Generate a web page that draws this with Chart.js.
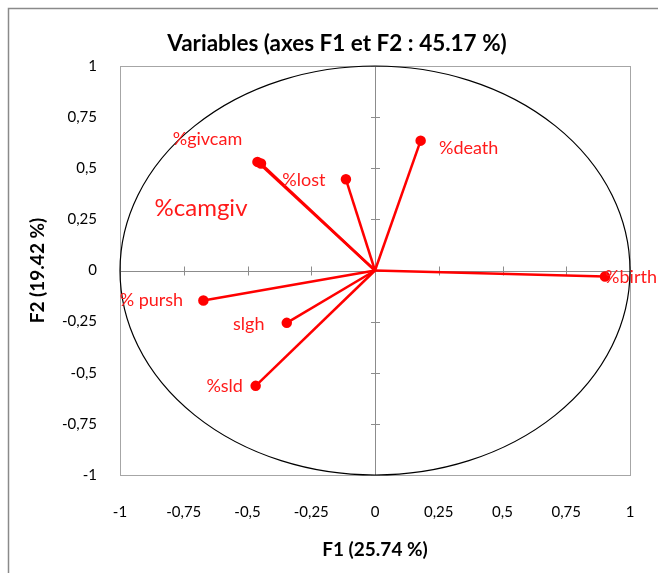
<!DOCTYPE html>
<html>
<head>
<meta charset="utf-8">
<script src="https://cdn.jsdelivr.net/npm/chart.js@4.4.1/dist/chart.umd.min.js"></script>
<style>
  html, body { margin: 0; padding: 0; background: #fff; }
  #wrap { width: 658px; height: 573px; }
</style>
</head>
<body>
<div id="wrap"><canvas id="circleChart" width="658" height="573"></canvas></div>
<script>
// Correlation circle, F1 x F2
const varNames = ['%birth', '%death', '%lost', '%givcam', '%camgiv', '% pursh', 'slgh', '%sld'];
const f1Values = [0.902, 0.179, -0.114, -0.461, -0.447, -0.673, -0.346, -0.468];
const f2Values = [-0.029, 0.635, 0.446, 0.531, 0.523, -0.147, -0.256, -0.564];
const axisTicks = [-1, -0.75, -0.5, -0.25, 0, 0.25, 0.5, 0.75, 1];

const chartTitle = 'Variables (axes F1 et F2 : 45.17 %)';
const xTitle = 'F1 (25.74 %)';
const yTitle = 'F2 (19.42 %)';

const fontFam = 'Lato, "DejaVu Sans Condensed", sans-serif';

// where each name sits around its arrow tip (px) and how big it is
const labelStyle = [
    {dx: 26, dy: 1, size: 18},
    {dx: 48, dy: 8, size: 18},
    {dx: -42, dy: 1, size: 18},
    {dx: -50, dy: -23, size: 18},
    {dx: -60, dy: 45, size: 24},
    {dx: -52, dy: 0, size: 18},
    {dx: -38, dy: 1, size: 18},
    {dx: -31, dy: 0, size: 18}
];

function fmt(v){
    return String(v).replace('.', ',');
}

// one dataset per variable: a segment from the origin to its coordinates
const datasets = [];
for(let i = 0; i < varNames.length; i++){
    datasets.push({
        label: varNames[i],
        data: [{x: 0, y: 0}, {x: f1Values[i], y: f2Values[i]}],
        showLine: true,
        borderColor: '#ff0000',
        backgroundColor: '#ff0000',
        borderWidth: 2.5,
        pointRadius: ctx => ctx.dataIndex ? 4 : 0,
        pointHoverRadius: 0
    });
}

const circlePlugin = {
    id: 'circlePlugin',
    beforeDraw(chart){
        const c = chart.ctx;
        c.save();
        c.fillStyle = '#fff';
        c.fillRect(0, 0, chart.width, chart.height);
        // outer frame
        c.strokeStyle = '#8a8a8a';
        c.lineWidth = 1.5;
        c.strokeRect(8.5, 8.5, chart.width + 50, chart.height + 50);
        // title
        c.fillStyle = '#000';
        c.font = 'bold 22.5px ' + fontFam;
        c.textAlign = 'center';
        c.textBaseline = 'middle';
        c.fillText(chartTitle, 337, 44);
        c.restore();
    },
    beforeDatasetsDraw(chart){
        const c = chart.ctx;
        const xs = chart.scales.x, ys = chart.scales.y;
        const a = chart.chartArea;
        const x0 = xs.getPixelForValue(0), y0 = ys.getPixelForValue(0);
        c.save();
        // plot box
        c.strokeStyle = '#a6a6a6';
        c.lineWidth = 1;
        c.strokeRect(Math.round(a.left) + 0.5, Math.round(a.top) + 0.5, Math.round(a.right - a.left), Math.round(a.bottom - a.top));
        // axes through the origin with cross ticks
        c.strokeStyle = '#8c8c8c';
        c.beginPath();
        c.moveTo(a.left, Math.round(y0) + 0.5);
        c.lineTo(a.right, Math.round(y0) + 0.5);
        c.moveTo(Math.round(x0) + 0.5, a.top);
        c.lineTo(Math.round(x0) + 0.5, a.bottom);
        axisTicks.forEach(t => {
            const px = Math.round(xs.getPixelForValue(t)) + 0.5;
            const py = Math.round(ys.getPixelForValue(t)) + 0.5;
            c.moveTo(px, y0 - 4);
            c.lineTo(px, y0 + 5);
            c.moveTo(x0 - 4, py);
            c.lineTo(x0 + 5, py);
        });
        c.stroke();
        // unit circle
        c.strokeStyle = '#000';
        c.lineWidth = 1.2;
        c.beginPath();
        c.ellipse(x0, y0, xs.getPixelForValue(1) - x0, y0 - ys.getPixelForValue(1), 0, 0, Math.PI * 2);
        c.stroke();
        c.restore();
    },
    afterDatasetsDraw(chart){
        const c = chart.ctx;
        const xs = chart.scales.x, ys = chart.scales.y;
        c.save();
        c.fillStyle = '#ff1a1a';
        c.textAlign = 'center';
        c.textBaseline = 'middle';
        for(let i = 0; i < varNames.length; i++){
            const s = labelStyle[i];
            c.font = s.size + 'px ' + fontFam;
            c.fillText(varNames[i], xs.getPixelForValue(f1Values[i]) + s.dx, ys.getPixelForValue(f2Values[i]) + s.dy);
        }
        c.restore();
    }
};

Chart.defaults.font.family = fontFam;
Chart.defaults.color = '#000';

const chart = new Chart(document.getElementById('circleChart'), {
    type: 'scatter',
    data: {datasets: datasets},
    options: {
        responsive: false,
        animation: false,
        layout: {padding: {top: 66, right: 28, bottom: 0, left: 0}},
        plugins: {
            legend: {display: false},
            tooltip: {enabled: false}
        },
        scales: {
            x: {
                type: 'linear',
                min: -1,
                max: 1,
                afterBuildTicks: s => { s.ticks = axisTicks.map(v => ({value: v})); },
                afterFit: s => { s.height = 98; s.paddingLeft = 0; s.paddingRight = 0; },
                grid: {display: false, drawTicks: false},
                border: {display: false},
                ticks: {padding: 28, font: {size: 15}, callback: v => fmt(v), maxRotation: 0, autoSkip: false},
                title: {display: true, text: xTitle, font: {size: 19, weight: 'bold'}, padding: {top: 0, bottom: 12}}
            },
            y: {
                type: 'linear',
                min: -1,
                max: 1,
                afterBuildTicks: s => { s.ticks = axisTicks.map(v => ({value: v})); },
                afterFit: s => { s.width = 120; },
                grid: {display: false, drawTicks: false},
                border: {display: false},
                ticks: {padding: 23, font: {size: 15}, callback: v => fmt(v), autoSkip: false},
                title: {display: true, text: yTitle, font: {size: 19, weight: 'bold'}, padding: {top: 26, bottom: 0}}
            }
        }
    },
    plugins: [circlePlugin]
});
</script>
</body>
</html>
